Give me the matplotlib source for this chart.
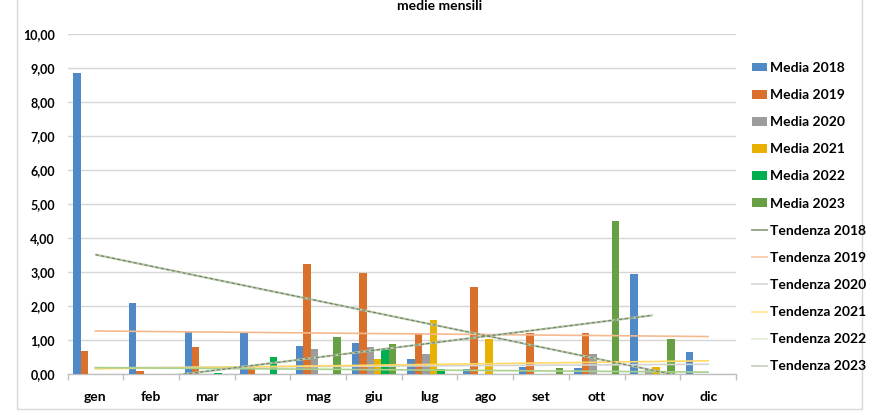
import numpy as np
import matplotlib
matplotlib.use("Agg")
import matplotlib.pyplot as plt
from matplotlib.lines import Line2D
from matplotlib.patches import Patch, Rectangle

plt.rcParams['font.family'] = ['Lato', 'DejaVu Sans']

months = ["gen", "feb", "mar", "apr", "mag", "giu", "lug", "ago", "set", "ott", "nov", "dic"]
media_2018 = [8.85, 2.08, 1.26, 1.20, 0.82, 0.90, 0.43, 0.14, 0.22, 0.19, 2.94, 0.66]
media_2019 = [0.68, 0.09, 0.80, 0.22, 3.25, 2.96, 1.21, 2.57, 1.21, 1.21, 0.00, 0.00]
media_2020 = [0.00, 0.00, 0.00, 0.00, 0.73, 0.80, 0.58, 0.00, 0.00, 0.58, 0.12, 0.00]
media_2021 = [0.00, 0.00, 0.00, 0.00, 0.00, 0.43, 1.59, 1.02, 0.00, 0.00, 0.21, 0.00]
media_2022 = [0.00, 0.00, 0.04, 0.51, 0.00, 0.77, 0.14, 0.00, 0.00, 0.00, 0.00, 0.00]
media_2023 = [0.00, 0.00, 0.00, 0.00, 1.08, 0.87, 0.00, 0.00, 0.19, 4.51, 1.02]
years = ["2018", "2019", "2020", "2021", "2022", "2023"]
yticks = [0, 1, 2, 3, 4, 5, 6, 7, 8, 9, 10]
ytick_labels = ["0,00", "1,00", "2,00", "3,00", "4,00", "5,00", "6,00", "7,00", "8,00", "9,00", "10,00"]
title = "medie mensili"

series = [media_2018, media_2019, media_2020, media_2021, media_2022, media_2023]
bar_colors = ["#4f89c6", "#d9712c", "#9c9c9c", "#e8b000", "#00b050", "#67a042"]
trend_colors = ["#b9cbab", "#f6b98e", "#d4d4d4", "#ffd966", "#a9d18e", "#b9cbab"]
legend_trend_colors = ["#8aa37f", "#f8cbad", "#d9d9d9", "#ffe699", "#e2efda", "#c8d0c4"]

W, H = 884, 412
fig = plt.figure(figsize=(W / 100, H / 100), dpi=100)
ax_l, ax_r, ax_b, ax_t = 67.6, 736, 374, 34
ax = fig.add_axes([ax_l / W, 1 - ax_b / H, (ax_r - ax_l) / W, (ax_b - ax_t) / H])
ax.set_xlim(-0.5, 11.5)
ax.set_ylim(0, 10)

bw = 1 / 7.5
for k, (vals, col) in enumerate(zip(series, bar_colors)):
    x = np.arange(len(vals)) + (k - 2.5) * bw
    ax.bar(x, vals, width=bw, color=col, zorder=3, linewidth=0)

# linear trend lines (least squares fit of each series)
for k, vals in enumerate(series):
    xs = np.arange(len(vals))
    p = np.polyfit(xs, vals, 1)
    yv = np.polyval(p, xs[[0, -1]])
    if k in (0, 5):
        ax.plot(xs[[0, -1]], yv, color=trend_colors[k], lw=1.6, zorder=4, solid_capstyle='butt')
        ax.plot(xs[[0, -1]], yv, color="#6f7f65", lw=0.8, ls=(0, (3, 2)), zorder=5)
    else:
        ax.plot(xs[[0, -1]], yv, color=trend_colors[k], lw=1.2, zorder=4)

ax.set_yticks(yticks)
ax.set_yticklabels(ytick_labels, fontsize=9, fontweight='bold')
ax.yaxis.grid(True, color="#d6d6d6", lw=1.0, zorder=0)
ax.set_axisbelow(True)
ax.tick_params(axis='y', length=0, pad=9)
ax.set_xticks(range(12))
ax.set_xticklabels(months, fontsize=10, fontweight='bold')
ax.set_xticks(np.arange(-0.5, 12, 1), minor=True)
ax.tick_params(axis='x', which='major', length=0, pad=12)
ax.tick_params(axis='x', which='minor', length=4, color="#bfbfbf", width=1)
for s in ["top", "right", "left"]:
    ax.spines[s].set_visible(False)
ax.spines["bottom"].set_color("#bfbfbf")
ax.spines["bottom"].set_linewidth(1.0)

fig.text(440 / W, 1 - 10 / H, title, ha='center', va='baseline', fontsize=10, fontweight='bold')

handles = [Patch(facecolor=c, edgecolor='none') for c in bar_colors]
handles += [Line2D([0], [0], color=c, lw=1.3) for c in legend_trend_colors]
labels = ["Media " + y for y in years] + ["Tendenza " + y for y in years]
leg = fig.legend(handles, labels, loc='upper left', bbox_to_anchor=(745 / W, 1 - 55 / H),
                 frameon=False, prop={'size': 10, 'weight': 'bold'}, handlelength=1.1,
                 handleheight=0.6, handletextpad=0.2, labelspacing=1.09, borderpad=0)

# chart border
fig.add_artist(Rectangle((17 / W, 1 - 409 / H), (862 - 17) / W, 409 / H + 0.05,
                         transform=fig.transFigure, fill=False, edgecolor="#d9d9d9", lw=1))

fig.savefig("out.png", dpi=100)
